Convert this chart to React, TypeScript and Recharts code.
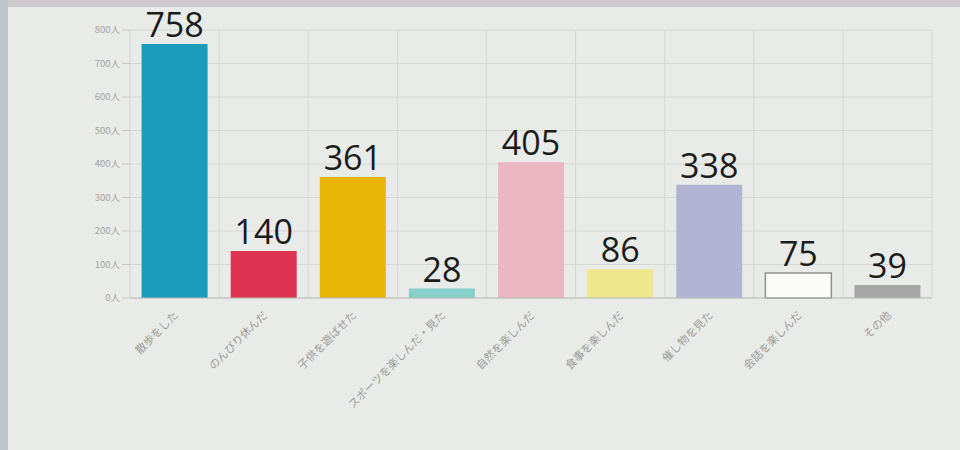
import React from "react";
import { BarChart, Bar, XAxis, YAxis, CartesianGrid, Cell, LabelList } from "recharts";

const CATEGORIES = [
    "散歩をした",
    "のんびり休んだ",
    "子供を遊ばせた",
    "スポーツを楽しんだ・見た",
    "自然を楽しんだ",
    "食事を楽しんだ",
    "催し物を見た",
    "会話を楽しんだ",
    "その他"
];

const COUNTS = [758, 140, 361, 28, 405, 86, 338, 75, 39];

const Y_TICKS = [0, 100, 200, 300, 400, 500, 600, 700, 800];

const COLORS = [
    "#1a9cbb",
    "#df3352",
    "#e9b509",
    "#86d0c9",
    "#ebb5c1",
    "#eee78e",
    "#b1b5d3",
    "#fbfbf8",
    "#a6a6a6"
];

const data = CATEGORIES.map((name, i) => ({ name, count: COUNTS[i] }));

const XTick = ({ x, y, payload }: any) => (
    <g transform={`translate(${x},${y})`}>
        <text
            transform="rotate(-45)"
            x={-4}
            y={10}
            textAnchor="end"
            fontSize={11}
            fill="#999b99"
            fontFamily="'Noto Sans CJK JP', sans-serif"
        >
            {payload.value}
        </text>
    </g>
);

export default function App() {
    return (
        <div
            style={{
                position: "absolute",
                top: 0,
                left: 0,
                width: 960,
                height: 450,
                background: "#e9ebe8",
                overflow: "hidden"
            }}
        >
            <div style={{ position: "absolute", top: 0, left: 0, width: 960, height: 7, background: "#cdc8cc" }} />
            <div style={{ position: "absolute", top: 0, left: 0, width: 8, height: 450, background: "#bfc6cc" }} />
            <BarChart
                width={960}
                height={450}
                data={data}
                margin={{ top: 30, right: 28, left: 80, bottom: 12 }}
                barCategoryGap="13%"
                style={{ position: "absolute", top: 0, left: 0 }}
            >
                <CartesianGrid
                    stroke="#d6d8d5"
                    verticalCoordinatesGenerator={({ offset }: any) =>
                        CATEGORIES.map((_, i) => offset.left + ((i + 1) * offset.width) / CATEGORIES.length)
                    }
                />
                <XAxis
                    dataKey="name"
                    interval={0}
                    height={140}
                    tick={<XTick />}
                    tickLine={false}
                    axisLine={{ stroke: "#b9bbb8" }}
                />
                <YAxis
                    width={50}
                    domain={[0, 800]}
                    ticks={Y_TICKS}
                    tickFormatter={(v) => `${v}人`}
                    tick={{ fontSize: 9.5, fill: "#a2a4a2", fontFamily: "'Noto Sans CJK JP', sans-serif" }}
                    tickLine={{ stroke: "#c5c7c4" }}
                    tickSize={8}
                    axisLine={{ stroke: "#d0d2cf" }}
                />
                <Bar dataKey="count" isAnimationActive={false}>
                    {data.map((_, i) => (
                        <Cell
                            key={`cell-${i}`}
                            fill={COLORS[i]}
                            stroke={i === 7 ? "#8f918f" : "none"}
                            strokeWidth={i === 7 ? 1.5 : 0}
                        />
                    ))}
                    <LabelList
                        dataKey="count"
                        position="top"
                        offset={7}
                        fontSize={34}
                        fill="#1b1b1b"
                        fontFamily="'Open Sans', sans-serif"
                    />
                </Bar>
            </BarChart>
        </div>
    );
}
